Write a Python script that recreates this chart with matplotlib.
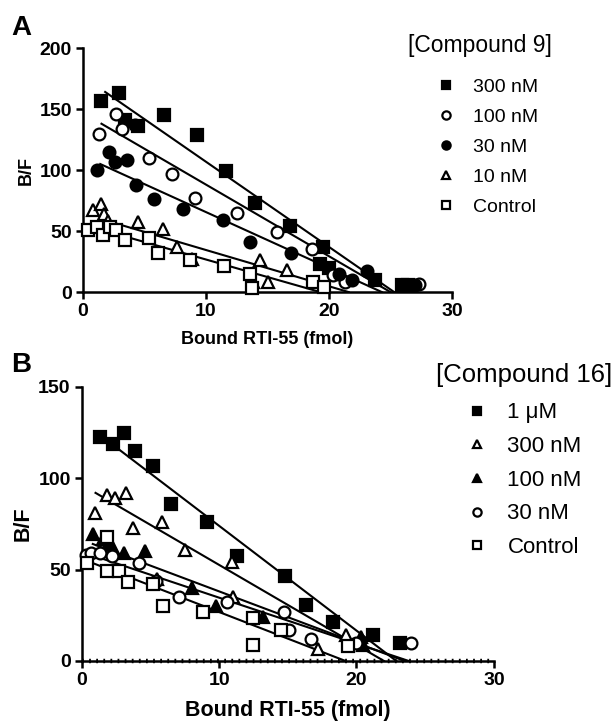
import matplotlib
matplotlib.use("Agg")
import matplotlib.pyplot as plt
import numpy as np

plt.rcParams['font.family'] = ['Liberation Sans', 'DejaVu Sans']

#----------------------------------------------------------------
# panel A : [Compound 9]
a_labels = ["300 nM", "100 nM", "30 nM", "10 nM", "Control"]
a_x = [
	[1.5, 2.9, 3.4, 4.5, 6.6, 9.3, 11.6, 14.0, 16.8, 19.5, 19.3, 20.0, 23.7, 25.9, 26.4],
	[1.3, 2.7, 3.2, 5.4, 7.2, 9.1, 12.5, 15.8, 18.6, 20.3, 21.3, 27.3],
	[1.1, 2.1, 2.6, 3.6, 4.2, 4.3, 5.8, 8.1, 11.4, 13.6, 16.9, 20.8, 21.9, 23.1, 27.0],
	[0.8, 1.5, 1.7, 2.0, 4.5, 6.5, 7.6, 8.9, 13.8, 14.4, 15.0, 16.6],
	[0.4, 1.1, 1.6, 2.2, 2.7, 3.4, 5.4, 6.1, 8.7, 11.5, 13.6, 13.7, 18.7, 19.6],
]
a_y = [
	[157, 163, 141, 136, 145, 129, 99, 73, 54, 37, 23, 20, 10, 6, 6],
	[129.5, 146, 134, 110, 97, 77, 65, 49, 35, 14, 8.5, 7],
	[100, 115, 107, 108, 137, 88, 76, 68, 59, 41, 32, 15, 10, 17, 6],
	[67, 72, 64, 58, 57.6, 52, 37, 27, 8, 26, 8.5, 18],
	[51, 53.5, 46.7, 53.5, 51, 43, 44, 31.7, 26, 21, 15, 3, 8.5, 4.3],
]
# scatchard fits : start of line, B/F intercept, Bmax
a_fit_x0 = [1.8, 1.5, 1.4, 1.4, 0.5]
a_fit_icpt = [176.6, 146.8, 111.4, 64.2, 55.4]
a_fit_bmax = [25.3, 25.0, 24.3, 21.6, 19.3]

# panel B : [Compound 16]
b_labels = ["1 \u03bcM", "300 nM", "100 nM", "30 nM", "Control"]
b_x = [
	[1.3, 2.3, 3.1, 3.9, 5.2, 6.5, 9.1, 11.3, 14.8, 16.3, 18.3, 21.2, 23.2],
	[0.95, 1.85, 2.4, 3.2, 3.7, 5.85, 7.5, 10.9, 11.0, 17.2, 19.2],
	[0.8, 1.55, 1.9, 2.3, 3.1, 4.6, 5.5, 8.0, 9.8, 13.2, 20.3, 20.5],
	[0.3, 0.7, 1.3, 2.2, 4.2, 5.4, 7.1, 10.6, 14.7, 15.1, 16.7, 20.0, 24.0],
	[0.4, 1.8, 1.8, 2.7, 3.4, 5.2, 5.9, 8.8, 12.5, 12.5, 14.5, 19.4],
]
b_y = [
	[122.4, 118.8, 125, 115, 107, 86, 76, 57.6, 46.5, 30.6, 21.5, 14, 9.7],
	[81, 91, 89, 92, 72.6, 76, 61, 54, 35, 6.4, 14],
	[69.5, 67, 64, 62, 59, 60, 45, 40, 30, 24, 13, 8.8],
	[58, 59, 59, 57.5, 53.5, 44, 35, 32.5, 27, 17, 11.8, 9.7, 10],
	[53.5, 68, 49, 49, 43, 42, 30, 27, 23.5, 8.8, 17, 8.2],
]
b_fit_x0 = [2.5, 1.0, 0.8, 0.3, 0.3]
b_fit_icpt = [131.3, 96.4, 66.3, 59.75, 55.9]
b_fit_bmax = [22.9, 22.0, 23.5, 23.8, 19.2]

#----------------------------------------------------------------
a_style = [("s", "black"), ("o", "white"), ("o", "black"), ("^", "white"), ("s", "white")]
b_style = [("s", "black"), ("^", "white"), ("^", "black"), ("o", "white"), ("s", "white")]

def drawPanel(ax, xs, ys, x0s, icpts, bmaxs, labels, styles, ymax, ystep, lblsize, xpad) :
	for i in range(0, len(xs)) :
		xl = np.array([x0s[i], bmaxs[i]])
		ax.plot(xl, icpts[i] * (1 - xl / bmaxs[i]), color="black", lw=1.5, zorder=2)
	handles = []
	for i in range(0, len(xs)) :
		mk, fc = styles[i]
		ms = 8 if mk == "s" else 8.5
		h, = ax.plot(xs[i], ys[i], linestyle="none", marker=mk, markersize=ms,
			markerfacecolor=fc, markeredgecolor="black", markeredgewidth=1.6,
			label=labels[i], zorder=3, clip_on=False)
		handles.append(h)
	ax.set_xlim(0, 30)
	ax.set_ylim(0, ymax)
	ax.set_xticks([0, 10, 20, 30])
	ax.set_yticks(np.arange(0, ymax + 1, ystep))
	for s in ["top", "right"] :
		ax.spines[s].set_visible(False)
	for s in ["left", "bottom"] :
		ax.spines[s].set_linewidth(1.8)
	ax.tick_params(width=1.8, length=5, labelsize=14, pad=3)
	for t in ax.get_xticklabels() + ax.get_yticklabels() :
		t.set_fontweight("bold")
	ax.set_xlabel("Bound RTI-55 (fmol)", fontsize=lblsize, fontweight="bold", labelpad=xpad)
	ax.set_ylabel("B/F", fontsize=lblsize, fontweight="bold", labelpad=3)
	return handles

fig = plt.figure(figsize=(6.15, 7.23), dpi=100)

ax1 = fig.add_axes([0.135, 0.596, 0.600, 0.3375])
ax2 = fig.add_axes([0.133, 0.0858, 0.670, 0.379])

h1 = drawPanel(ax1, a_x, a_y, a_fit_x0, a_fit_icpt, a_fit_bmax, a_labels, a_style, 200, 50, 13, 8)
h2 = drawPanel(ax2, b_x, b_y, b_fit_x0, b_fit_icpt, b_fit_bmax, b_labels, b_style, 150, 50, 15.5, 8)
ax2.axhline(0, color="black", lw=3.2, ls=(0, (0.4, 1.2)), zorder=1, clip_on=False)

# legends, titles written separately to control the gap
fig.text(0.780, 0.937, "[Compound 9]", fontsize=16.5, ha="center", va="center")
fig.legend(handles=h1, loc="upper left", bbox_to_anchor=(0.680, 0.911),
	frameon=False, fontsize=14, handletextpad=0.6, labelspacing=0.64,
	markerscale=0.7, handlelength=1.5, borderpad=0.2)

fig.text(0.852, 0.481, "[Compound 16]", fontsize=18.5, ha="center", va="center")
fig.legend(handles=h2, loc="upper left", bbox_to_anchor=(0.724, 0.465),
	frameon=False, fontsize=16, handletextpad=0.6, labelspacing=0.57,
	markerscale=0.7, handlelength=1.5, borderpad=0.2)

fig.text(0.018, 0.952, "A", fontsize=20, fontweight="bold")
fig.text(0.018, 0.486, "B", fontsize=20, fontweight="bold")

fig.savefig("out.png", dpi=100)
